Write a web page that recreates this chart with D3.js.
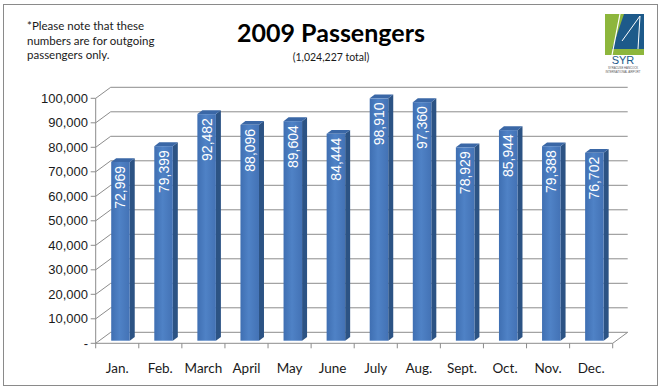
<!DOCTYPE html>
<html>
<head>
<meta charset="utf-8">
<script src="https://cdn.jsdelivr.net/npm/d3@7"></script>
<style>
html,body{margin:0;padding:0;background:#fff;}
svg{display:block;}
</style>
</head>
<body>
<script>
const categories = ["Jan.","Feb.","March","April","May","June","July","Aug.","Sept.","Oct.","Nov.","Dec."];
const passengers = [72969,79399,92482,88096,89604,84444,98910,97360,78929,85944,79388,76702];
const yTicks = [0,10000,20000,30000,40000,50000,60000,70000,80000,90000,100000];
const title = "2009 Passengers";
const subtitle = "(1,024,227 total)";
const noteLines = ["*Please note that these","numbers are for outgoing","passengers only."];

const W = 663, H = 391;
const svg = d3.select("body").append("svg").attr("width", W).attr("height", H);

// frame
svg.append("rect").attr("x",3.5).attr("y",4.5).attr("width",654).attr("height",381)
  .attr("fill","#fff").attr("stroke","#8a8a8a").attr("stroke-width",1);

// 3D geometry
const frontL = 95.7, frontR = 612.7;
const DX = 15, DY = -11;          // full floor depth offset
const x = d3.scaleBand().domain(categories).range([frontL, frontR]);
const y = d3.scaleLinear().domain([0,100000]).range([343.3, 98.3]);

const grid = svg.append("g").attr("stroke","#8c8c8c").attr("stroke-width",1).attr("fill","none");
yTicks.forEach(v => {
  const yy = y(v);
  grid.append("path").attr("d", `M${frontL},${yy}L${frontL+DX},${yy+DY}L${frontR+DX},${yy+DY}`);
});
// floor right edge
grid.append("path").attr("d", `M${frontR},${y(0)}L${frontR+DX},${y(0)+DY}`);

// front axes
const axes = svg.append("g").attr("stroke","#8c8c8c").attr("stroke-width",1).attr("fill","none");
axes.append("path").attr("d", `M${frontL},${y(100000)}L${frontL},${y(0)}L${frontR},${y(0)}`);
yTicks.forEach(v => axes.append("path").attr("d", `M${frontL-5},${y(v)}L${frontL},${y(v)}`));
categories.forEach(c => axes.append("path").attr("d", `M${x(c)},${y(0)}L${x(c)},${y(0)+5}`));
axes.append("path").attr("d", `M${frontR},${y(0)}L${frontR},${y(0)+5}`);

// y labels
const fmt = d3.format(",");
svg.append("g").selectAll("text").data(yTicks).join("text")
  .attr("x", 88).attr("y", d => y(d)).attr("dy","0.36em")
  .attr("text-anchor","end")
  .attr("font-family","'Liberation Sans', Arial, sans-serif").attr("font-size",13)
  .attr("fill","#1a1a1a")
  .text(d => d === 0 ? "-" : fmt(d));

// x labels
svg.append("g").selectAll("text").data(categories).join("text")
  .attr("x", d => x(d) + x.bandwidth()/2).attr("y", 373)
  .attr("text-anchor","middle")
  .attr("font-family","Lato, sans-serif").attr("font-size",13.5)
  .attr("fill","#1a1a1a")
  .text(d => d);

// bars
const defs = svg.append("defs");
const grad = defs.append("linearGradient").attr("id","barFront").attr("x1","0").attr("x2","1").attr("y1","0").attr("y2","0");
grad.append("stop").attr("offset","0").attr("stop-color","#3f6fb2");
grad.append("stop").attr("offset","0.45").attr("stop-color","#4f82c6");
grad.append("stop").attr("offset","1").attr("stop-color","#4372b5");

const bw = x.bandwidth();
const barOff = 0.36*bw, barW = 0.43*bw, baseShift = -2.6, bdx = 5, bdy = -3.8;
const bars = svg.append("g");
categories.forEach((c,i) => {
  const v = passengers[i];
  const x0 = x(c) + barOff, x1 = x0 + barW;
  const yb = y(0) + baseShift, yt = y(v) + baseShift;
  bars.append("path").attr("d", `M${x1},${yt}L${x1+bdx},${yt+bdy}L${x1+bdx},${yb+bdy}L${x1},${yb}Z`)
    .attr("fill","#2c5384");
  bars.append("path").attr("d", `M${x0},${yt}L${x0+bdx},${yt+bdy}L${x1+bdx},${yt+bdy}L${x1},${yt}Z`)
    .attr("fill","#3a67a6");
  bars.append("rect").attr("x",x0).attr("y",yt).attr("width",barW).attr("height",yb-yt)
    .attr("fill","url(#barFront)");
  const cx = x0 + barW/2, ty = yt + 4;
  bars.append("text")
    .attr("transform", `translate(${cx},${ty}) rotate(-90)`)
    .attr("text-anchor","end").attr("dominant-baseline","central")
    .attr("font-family","'Liberation Sans', Arial, sans-serif").attr("font-size",14)
    .attr("fill","#fff")
    .text(fmt(v));
});

// titles
svg.append("text").attr("x",331).attr("y",42).attr("text-anchor","middle")
  .attr("font-family","Lato, sans-serif").attr("font-weight","bold").attr("font-size",25)
  .attr("fill","#000").text(title);
svg.append("text").attr("x",331).attr("y",61).attr("text-anchor","middle")
  .attr("font-family","Lato, sans-serif").attr("font-size",10.5)
  .attr("fill","#1a1a1a").text(subtitle);

// note
svg.append("g").selectAll("text").data(noteLines).join("text")
  .attr("x",27).attr("y",(d,i)=>30+i*14.5)
  .attr("font-family","Lato, sans-serif").attr("font-size",11.5)
  .attr("fill","#1a1a1a").text(d=>d);

// logo
const logo = svg.append("g");
logo.append("rect").attr("x",605).attr("y",14).attr("width",39).attr("height",41).attr("fill","#8db63c");
logo.append("path").attr("d","M624,14L644,14L644,49L612,49Z").attr("fill","#1d5a8a");
logo.append("path").attr("d","M612,55L620,14").attr("stroke","#fff").attr("stroke-width",1.2).attr("fill","none");
logo.append("path").attr("d","M622,41L640,16L638,49").attr("stroke","#fff").attr("stroke-width",1).attr("fill","none");
logo.append("text").attr("x",623).attr("y",64).attr("text-anchor","middle")
  .attr("font-family","'Liberation Sans', Arial, sans-serif").attr("font-size",11)
  .attr("fill","#1d5a8a").text("SYR");
logo.append("text").attr("x",623).attr("y",69).attr("text-anchor","middle")
  .attr("font-family","'Liberation Sans', Arial, sans-serif").attr("font-size",2.8)
  .attr("fill","#555").text("SYRACUSE HANCOCK");
logo.append("text").attr("x",623).attr("y",72.5).attr("text-anchor","middle")
  .attr("font-family","'Liberation Sans', Arial, sans-serif").attr("font-size",2.8)
  .attr("fill","#555").text("INTERNATIONAL AIRPORT");
</script>
</body>
</html>
